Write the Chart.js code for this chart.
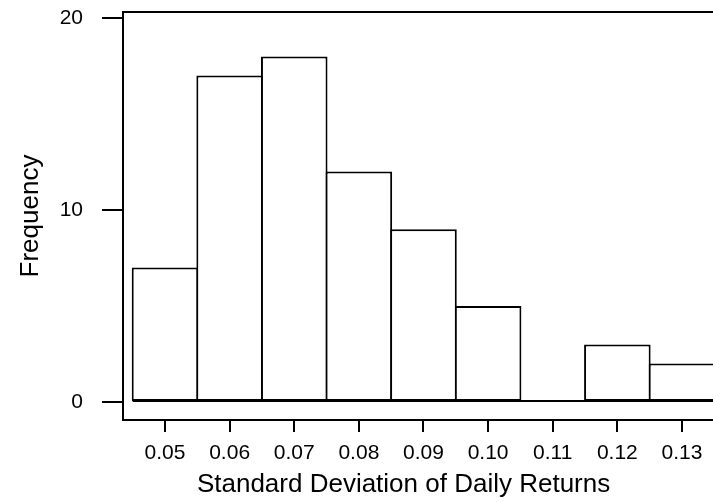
<!DOCTYPE html>
<html>
<head>
<meta charset="utf-8">
<script src="https://cdn.jsdelivr.net/npm/chart.js@4.4.1/dist/chart.umd.min.js"></script>
<style>
  html, body { margin: 0; padding: 0; background: #ffffff; }
  #wrap { width: 713px; height: 502px; position: relative; }
</style>
</head>
<body>
<div id="wrap"><canvas id="hist"></canvas></div>
<script>
// histogram bins (class midpoints) and counts
const binCenters = [0.05, 0.06, 0.07, 0.08, 0.09, 0.10, 0.11, 0.12, 0.13];
const frequencies = [7, 17, 18, 12, 9, 5, 0, 3, 2];
const xTickValues = [0.05, 0.06, 0.07, 0.08, 0.09, 0.10, 0.11, 0.12, 0.13];
const yTickValues = [0, 10, 20];

const FONT = '"Liberation Sans", Arial, sans-serif';

// frame line on top + baseline under the bars (also through empty bins)
const framePlugin = {
  id: 'frame',
  afterDatasetsDraw(chart) {
    const ctx = chart.ctx;
    const area = chart.chartArea;
    const xs = chart.scales.x, ys = chart.scales.y;
    const half = (binCenters[1] - binCenters[0]) / 2;
    const x0 = xs.getPixelForValue(binCenters[0] - half);
    const x1 = xs.getPixelForValue(binCenters[binCenters.length - 1] + half);
    const y0 = ys.getPixelForValue(0) - 1;
    ctx.save();
    ctx.strokeStyle = '#000';
    ctx.lineWidth = 2;
    ctx.beginPath();
    ctx.moveTo(x0, y0);
    ctx.lineTo(x1, y0);
    ctx.moveTo(area.left - 1, area.top);
    ctx.lineTo(area.right, area.top);
    ctx.stroke();
    ctx.restore();
  }
};

const data = {
  datasets: [{
    label: 'Frequency',
    data: binCenters.map((c, i) => ({x: c, y: frequencies[i]})),
    backgroundColor: '#ffffff',
    borderColor: '#000000',
    borderWidth: 2,
    borderSkipped: false,
    categoryPercentage: 1,
    barPercentage: 1.03
  }]
};

const config = {
  type: 'bar',
  data: data,
  plugins: [framePlugin],
  options: {
    responsive: true,
    maintainAspectRatio: false,
    animation: false,
    layout: { padding: { top: 12, right: 0, left: 0, bottom: 0 } },
    plugins: {
      legend: { display: false },
      tooltip: { enabled: false }
    },
    scales: {
      x: {
        type: 'linear',
        offset: false,
        min: 0.0435,
        max: 0.1348,
        afterBuildTicks: s => { s.ticks = xTickValues.map(v => ({value: v})); },
        afterFit: s => { s.height = 82; s.paddingLeft = 0; s.paddingRight = 0; },
        border: { display: true, color: '#000', width: 2 },
        grid: { offset: false, drawOnChartArea: false, drawTicks: true, tickLength: 12, tickColor: '#000', lineWidth: 2 },
        ticks: {
          color: '#000',
          font: { family: FONT, size: 21 },
          padding: 9,
          maxRotation: 0,
          autoSkip: false,
          callback: v => v.toFixed(2)
        },
        title: {
          display: true,
          text: 'Standard Deviation of Daily Returns    ',
          color: '#000',
          font: { family: FONT, size: 26, lineHeight: 1.2 },
          padding: { top: 0, bottom: 2 }
        }
      },
      y: {
        min: -0.9375,
        max: 20.3125,
        afterBuildTicks: s => { s.ticks = yTickValues.map(v => ({value: v})); },
        afterFit: s => { s.width = 123; s.paddingTop = 0; s.paddingBottom = 0; },
        border: { display: true, color: '#000', width: 2 },
        grid: { drawOnChartArea: false, drawTicks: true, tickLength: 21, tickColor: '#000', lineWidth: 2 },
        ticks: {
          color: '#000',
          font: { family: FONT, size: 21 },
          padding: 19,
          autoSkip: false
        },
        title: {
          display: true,
          text: 'Frequency',
          color: '#000',
          font: { family: FONT, size: 26, lineHeight: 1.2 },
          padding: { top: 15, bottom: 0 }
        }
      }
    }
  }
};

new Chart(document.getElementById('hist').getContext('2d'), config);
</script>
</body>
</html>
